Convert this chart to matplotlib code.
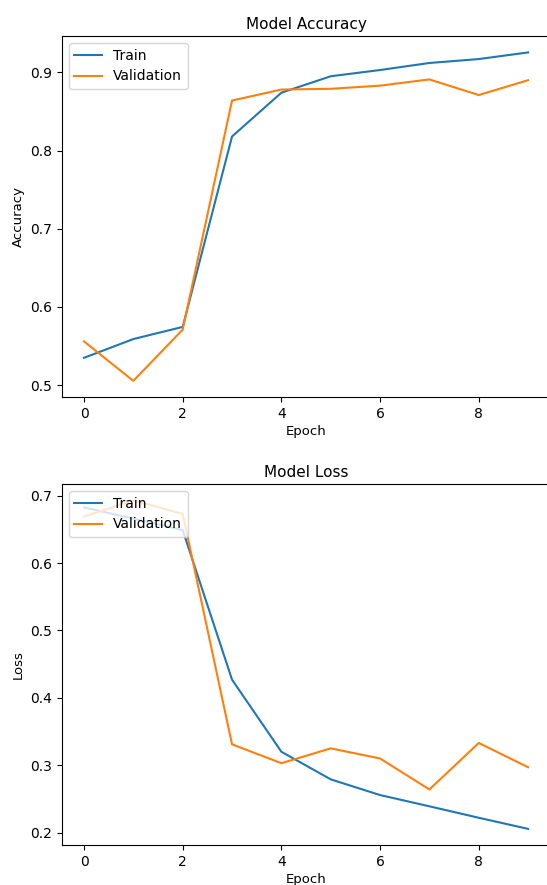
import matplotlib
matplotlib.use("Agg")
import matplotlib.pyplot as plt
import numpy as np

epochs = list(range(10))
train_acc = [0.535, 0.559, 0.5745, 0.818, 0.874, 0.895, 0.903, 0.912, 0.917, 0.9255]
val_acc = [0.556, 0.5055, 0.571, 0.864, 0.878, 0.879, 0.883, 0.891, 0.871, 0.890]
train_loss = [0.6826, 0.666, 0.649, 0.427, 0.320, 0.279, 0.2557, 0.239, 0.222, 0.2055]
val_loss = [0.669, 0.693, 0.673, 0.331, 0.303, 0.325, 0.310, 0.264, 0.333, 0.297]

W, H = 547, 885
fig = plt.figure(figsize=(W / 100, H / 100), dpi=100)

def pos(left, right, top, bottom):
    return [left / W, 1 - bottom / H, (right - left) / W, (bottom - top) / H]

ax1 = fig.add_axes(pos(61.8, 550.3, 36, 397.3))
ax2 = fig.add_axes(pos(61.8, 550.3, 484, 845.3))

for ax, tr, va, title, ylabel in [
    (ax1, train_acc, val_acc, "Model Accuracy", "Accuracy"),
    (ax2, train_loss, val_loss, "Model Loss", "Loss"),
]:
    ax.plot(epochs, tr, color="#1f77b4", label="Train")
    ax.plot(epochs, va, color="#ff7f0e", label="Validation")
    ax.set_title(title, fontsize=11, pad=5)
    ax.set_xlabel("Epoch", fontsize=9.5, labelpad=3)
    ax.set_ylabel(ylabel, fontsize=9.5)
    ax.tick_params(labelsize=10)
    ax.spines["right"].set_visible(False)
    ax.legend(loc="upper left", fontsize=10)

fig.savefig("out.png", dpi=100)
